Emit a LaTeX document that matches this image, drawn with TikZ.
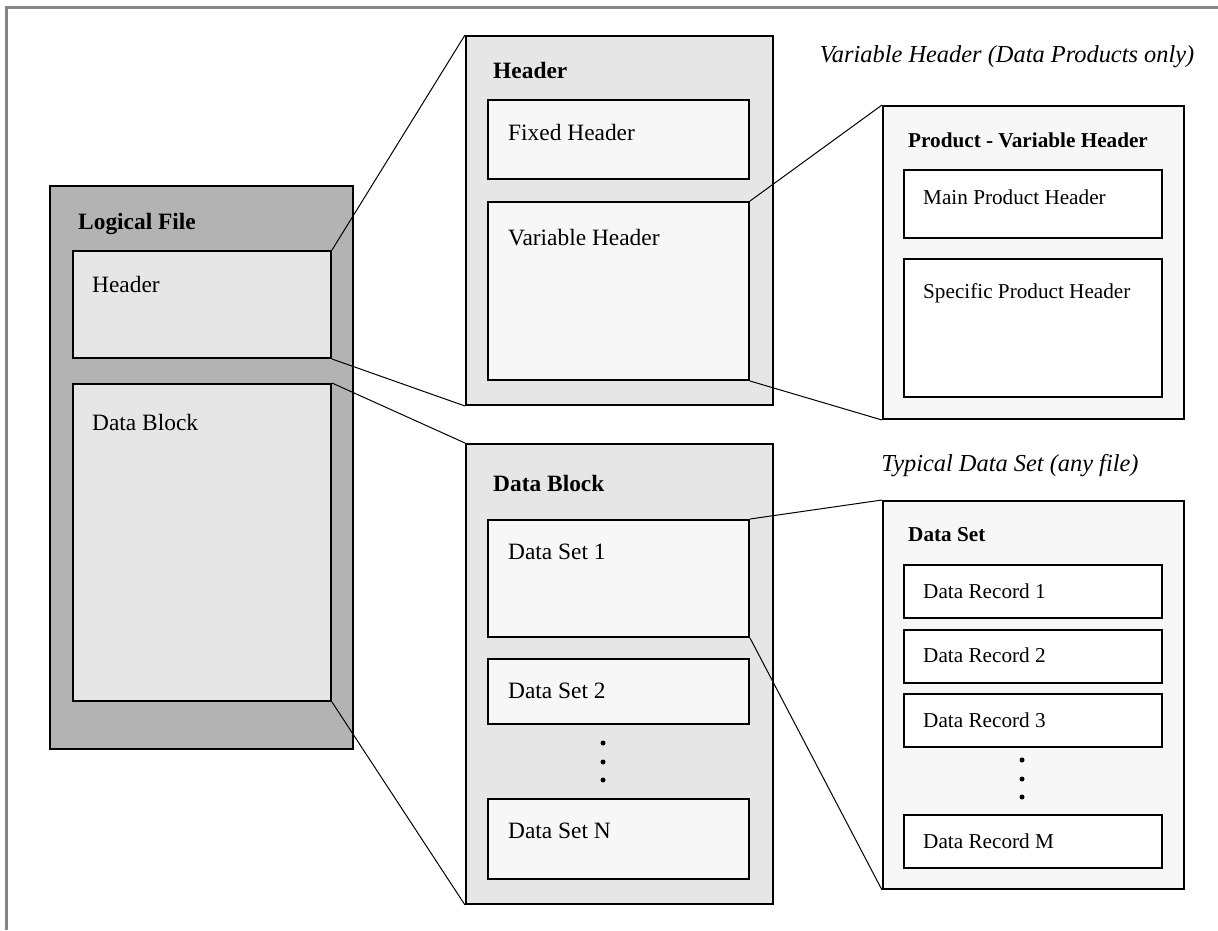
\documentclass[tikz,border=0pt]{standalone}
\usepackage{fontspec}
\setmainfont{Liberation Serif}
\definecolor{filedark}{HTML}{B3B3B3}
\definecolor{blocklight}{HTML}{E6E6E6}
\definecolor{setpale}{HTML}{F7F7F7}
\definecolor{framegray}{HTML}{858585}
\begin{document}
\begin{tikzpicture}[x=1pt,y=-1pt,
  box/.style={draw,line width=2pt,inner sep=0pt,anchor=north west},
  bigtxt/.style={anchor=base west,inner sep=0pt,font=\fontsize{23.4}{28}\selectfont},
  smalltxt/.style={anchor=base west,inner sep=0pt,font=\fontsize{21.2}{25}\selectfont},
  captxt/.style={anchor=base,inner sep=0pt,font=\fontsize{24.4}{29}\selectfont\itshape},
  link/.style={line width=1pt}]
\useasboundingbox (0,0) rectangle (1218,930);
\draw[framegray,line width=3pt] (6,930) -- (6,7) -- (1218,7);
% logical file
\node[box,fill=filedark,minimum width=303pt,minimum height=563pt] (lfile) at (49,185) {};
\node[box,fill=blocklight,minimum width=258pt,minimum height=107pt] (lhdr) at (72,250) {};
\node[box,fill=blocklight,minimum width=258pt,minimum height=317pt] (ldata) at (72,383) {};
\node[bigtxt,font=\fontsize{23.4}{28}\selectfont\bfseries] (lfiletxt) at ([shift={(29,44)}]lfile.north west) {Logical File};
\node[bigtxt] (lhdrtxt) at ([shift={(20,42)}]lhdr.north west) {Header};
\node[bigtxt] (ldatatxt) at ([shift={(20,47)}]ldata.north west) {Data Block};
% header
\node[box,fill=blocklight,minimum width=307pt,minimum height=369pt] (hdr) at (465,35) {};
\node[box,fill=setpale,minimum width=261pt,minimum height=79pt] (fixhdr) at (487,99) {};
\node[box,fill=setpale,minimum width=261pt,minimum height=178pt] (varhdr) at (487,201) {};
\node[bigtxt,font=\fontsize{23.4}{28}\selectfont\bfseries] (hdrtxt) at ([shift={(28,43)}]hdr.north west) {Header};
\node[bigtxt] (fixhdrtxt) at ([shift={(21,41)}]fixhdr.north west) {Fixed Header};
\node[bigtxt] (varhdrtxt) at ([shift={(21,44)}]varhdr.north west) {Variable Header};
% data block
\node[box,fill=blocklight,minimum width=307pt,minimum height=460pt] (dblock) at (465,443) {};
\node[box,fill=setpale,minimum width=261pt,minimum height=117pt] (dset1) at (487,519) {};
\node[box,fill=setpale,minimum width=261pt,minimum height=65pt] (dset2) at (487,658) {};
\node[box,fill=setpale,minimum width=261pt,minimum height=80pt] (dsetn) at (487,798) {};
\node[bigtxt,font=\fontsize{23.4}{28}\selectfont\bfseries] (dblocktxt) at ([shift={(28,48)}]dblock.north west) {Data Block};
\node[bigtxt] (dset1txt) at ([shift={(21,40)}]dset1.north west) {Data Set 1};
\node[bigtxt] (dset2txt) at ([shift={(21,40)}]dset2.north west) {Data Set 2};
\node[bigtxt] (dsetntxt) at ([shift={(21,40)}]dsetn.north west) {Data Set N};
\foreach \y in {743,762,780} \fill (603,\y) circle (2.5);
% product variable header
\node[captxt] (prodcap) at (1007,62) {Variable Header (Data Products only)};
\node[box,fill=setpale,minimum width=301pt,minimum height=313pt] (prod) at (882,105) {};
\node[box,fill=white,minimum width=258pt,minimum height=68pt] (mainhdr) at (903,169) {};
\node[box,fill=white,minimum width=258pt,minimum height=138pt] (spechdr) at (903,258) {};
\node[smalltxt,font=\fontsize{21.2}{25}\selectfont\bfseries] (prodtxt) at ([shift={(26,42)}]prod.north west) {Product - Variable Header};
\node[smalltxt] (mainhdrtxt) at ([shift={(20,35)}]mainhdr.north west) {Main Product Header};
\node[smalltxt] (spechdrtxt) at ([shift={(20,40)}]spechdr.north west) {Specific Product Header};
% data set
\node[captxt] (dsetcap) at (1010,471) {Typical Data Set (any file)};
\node[box,fill=setpale,minimum width=301pt,minimum height=388pt] (dset) at (882,500) {};
\node[smalltxt,font=\fontsize{21.2}{25}\selectfont\bfseries] (dsettxt) at ([shift={(26,41)}]dset.north west) {Data Set};
\foreach \i/\y in {1/564,2/628.5,3/693}{
  \node[box,fill=white,minimum width=258pt,minimum height=53pt] (rec\i) at (903,\y) {};
  \node[smalltxt] (rec\i txt) at ([shift={(20,34)}]rec\i.north west) {Data Record \i};
}
\node[box,fill=white,minimum width=258pt,minimum height=53pt] (recm) at (903,814) {};
\node[smalltxt] (recmtxt) at ([shift={(20,34)}]recm.north west) {Data Record M};
\foreach \y in {760,779,797} \fill (1022,\y) circle (2.5);
% zoom lines
\draw[link] (lhdr.north east) -- (hdr.north west);
\draw[link] (lhdr.south east) -- (hdr.south west);
\draw[link] (ldata.north east) -- (dblock.north west);
\draw[link] (ldata.south east) -- (dblock.south west);
\draw[link] (varhdr.north east) -- (prod.north west);
\draw[link] (varhdr.south east) -- (prod.south west);
\draw[link] (dset1.north east) -- (dset.north west);
\draw[link] (dset1.south east) -- (dset.south west);
\end{tikzpicture}
\end{document}
